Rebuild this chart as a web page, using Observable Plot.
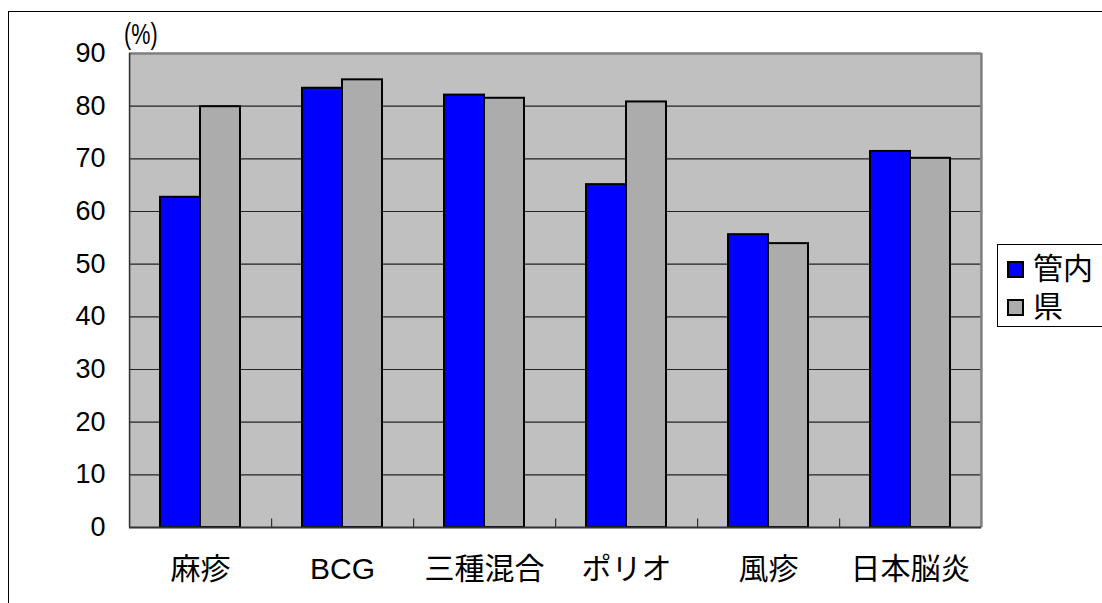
<!DOCTYPE html>
<html><head><meta charset="utf-8">
<script src="https://cdn.jsdelivr.net/npm/d3@7"></script>
<script src="https://cdn.jsdelivr.net/npm/@observablehq/plot@0.6"></script>
<style>
body{margin:0;background:#fff;}
#wrap{position:relative;width:1102px;height:603px;overflow:hidden;font-family:"Liberation Sans",Arial,"Noto Sans CJK JP",sans-serif;background:#fff;}
#border{position:absolute;left:8px;top:11px;width:1200px;height:700px;border:1.5px solid #000;box-sizing:border-box;}
#chart{position:absolute;left:0;top:0;}
#unit{position:absolute;left:124px;top:18px;font-family:"Liberation Sans",Arial,sans-serif;font-size:30px;line-height:32px;color:#000;transform:scaleX(0.72);transform-origin:left top;white-space:nowrap;}
#legend{position:absolute;left:997px;top:244px;width:130px;height:83px;border:1px solid #000;box-sizing:border-box;background:#fff;}
.item{position:absolute;left:9px;height:32px;line-height:32px;display:flex;align-items:center;font-size:30px;font-family:"Liberation Sans",Arial,"Noto Sans CJK JP",sans-serif;color:#000;}
.sw{width:17px;height:17px;border:2px solid #000;box-sizing:border-box;margin-right:9px;flex:none;}
</style>
</head><body>
<div id="wrap">
  <div id="border"></div>
  <div id="chart"></div>
  <div id="unit">(%)</div>
  <div id="legend"></div>
</div>
<script>
// ---- data ----
const categories = ["麻疹", "BCG", "三種混合", "ポリオ", "風疹", "日本脳炎"];
const seriesNames = ["管内", "県"];
const kannai = [62.7, 83.4, 82.1, 65.1, 55.6, 71.4];
const ken = [79.9, 85.0, 81.5, 80.8, 53.9, 70.1];
const yTicks = [0, 10, 20, 30, 40, 50, 60, 70, 80, 90];
const gridTicks = [10, 20, 30, 40, 50, 60, 70, 80];
const colors = ["#0000ff", "#acacac"];

const rows = categories.flatMap((c, i) => [
  {cat: c, series: seriesNames[0], value: kannai[i]},
  {cat: c, series: seriesNames[1], value: ken[i]}
]);

const W = 1102, H = 603, mL = 127, mR = 120, mT = 53, mB = 76;
const padOuter = 0.75;
const facetW = (W - mL - mR) / categories.length;
const step = facetW / (seriesNames.length + 2 * padOuter);
const edgeOff = step / 2 + padOuter * step; // band centre -> facet edge

const firstCat = categories[0], lastCat = categories[categories.length - 1];

const chart = Plot.plot({
  width: W, height: H,
  marginLeft: mL, marginRight: mR, marginTop: mT, marginBottom: mB,
  style: {background: "transparent", fontFamily: "'Liberation Sans', Arial, 'Noto Sans CJK JP', sans-serif", color: "#000"},
  fx: {domain: categories, padding: 0, label: null},
  x: {domain: seriesNames, paddingInner: 0, paddingOuter: padOuter, axis: null},
  y: {domain: [0, 90], label: null},
  color: {domain: seriesNames, range: colors},
  marks: [
    Plot.frame({fill: "#c0c0c0", stroke: "#c0c0c0", strokeWidth: 1.5}),
    Plot.ruleY(gridTicks, {stroke: "#222", strokeWidth: 1.2}),
    Plot.ruleY([90], {stroke: "#808080", strokeWidth: 2.5}),
    // right border of plot area
    Plot.ruleX([lastCat], {fx: d => d, x: () => seriesNames[1], dx: edgeOff, stroke: "#808080", strokeWidth: 2.5}),
    // category boundary ticks
    Plot.ruleX(categories.slice(1), {fx: d => d, x: () => seriesNames[0], dx: -edgeOff, y1: 0, y2: 1.6, stroke: "#333", strokeWidth: 1.2}),
    Plot.barY(rows, {fx: "cat", x: "series", y: "value", fill: "series", stroke: "#000", strokeWidth: 2}),
    // left axis line
    Plot.ruleX([firstCat], {fx: d => d, x: () => seriesNames[0], dx: -edgeOff, stroke: "#333", strokeWidth: 1.5}),
    Plot.ruleY([0], {stroke: "#333", strokeWidth: 2}),
    Plot.axisY(yTicks, {anchor: "left", tickSize: 0, tickPadding: 24, fontSize: 27, label: null}),
    Plot.axisFx({anchor: "bottom", tickSize: 0, tickPadding: 30, fontSize: 30, label: null})
  ]
});
document.getElementById("chart").appendChild(chart);

// legend
const leg = document.getElementById("legend");
const tops = [8, 46];
seriesNames.forEach((s, i) => {
  const it = document.createElement("div");
  it.className = "item";
  it.style.top = tops[i] + "px";
  const sw = document.createElement("span");
  sw.className = "sw";
  sw.style.background = colors[i];
  const t = document.createElement("span");
  t.textContent = s;
  it.appendChild(sw); it.appendChild(t);
  leg.appendChild(it);
});
</script>
</body></html>
